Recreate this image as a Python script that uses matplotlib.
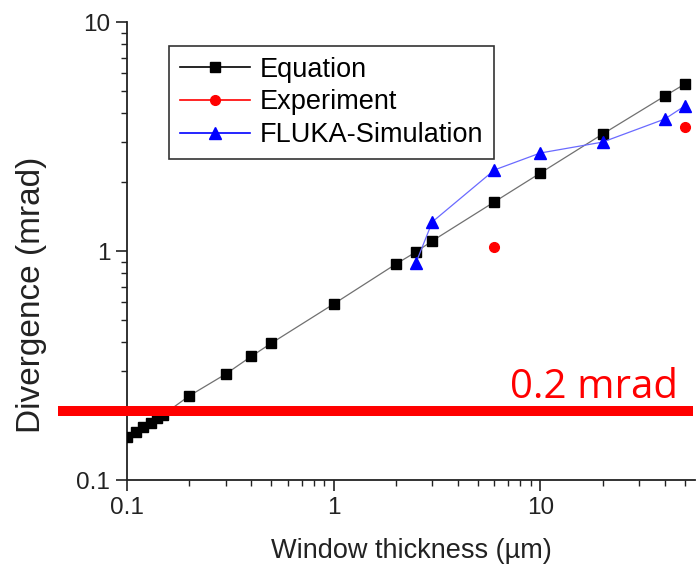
import numpy as np
import matplotlib.pyplot as plt
from matplotlib.ticker import LogLocator, NullFormatter, FixedLocator, FixedFormatter

plt.rcParams['font.family'] = ['Liberation Sans', 'DejaVu Sans']

# Equation (calculated divergence)
eq_x = [0.1, 0.11, 0.12, 0.13, 0.14, 0.15, 0.2, 0.3, 0.4, 0.5, 1, 2, 2.5, 3, 6, 10, 20, 40, 50]
eq_y = [0.154, 0.162, 0.170, 0.178, 0.186, 0.193, 0.233, 0.29, 0.347, 0.396, 0.587,
        0.877, 0.99, 1.107, 1.64, 2.19, 3.24, 4.75, 5.36]

# Experiment
exp_x = [6, 50]
exp_y = [1.04, 3.47]

# FLUKA simulation
sim_x = [2.5, 3, 6, 10, 20, 40, 50]
sim_y = [0.887, 1.34, 2.26, 2.68, 2.99, 3.77, 4.30]

limit = 0.2  # mrad
limit_span = [0.0465, 55]

fig = plt.figure(figsize=(7, 5.65), dpi=100)
ax = fig.add_axes([0.1814, 0.1504, 0.8114, 0.8106])

ax.plot(eq_x, eq_y, color='#707070', lw=0.9, marker='s', ms=7.5,
        mfc='black', mec='black', zorder=3)
ax.plot(exp_x, exp_y, ls='none', marker='o', ms=7, mfc='red', mec='red', zorder=3)
ax.plot(sim_x, sim_y, color='#6a6aff', lw=0.9, marker='^', ms=8.5,
        mfc='blue', mec='blue', zorder=3)

# legend handles (lines shown in legend like the original)
h1, = ax.plot([], [], color='black', lw=1.2, marker='s', ms=7.5, mfc='black', mec='black')
h2, = ax.plot([], [], color='red', lw=1.2, marker='o', ms=7, mfc='red', mec='red')
h3, = ax.plot([], [], color='blue', lw=1.2, marker='^', ms=8.5, mfc='blue', mec='blue')

# 0.2 mrad limit
ax.plot(limit_span, [limit, limit], color='red', lw=7.2, solid_capstyle='butt',
        clip_on=False, zorder=5)
ax.text(46.4, 0.228, '0.2 mrad', color='red', fontsize=29, family='Open Sans',
        ha='right', va='baseline')

ax.set_xscale('log')
ax.set_yscale('log')
ax.set_xlim(0.1, 56)
ax.set_ylim(0.1, 10)

ax.xaxis.set_major_locator(FixedLocator([0.1, 1, 10]))
ax.xaxis.set_major_formatter(FixedFormatter(['0.1', '1', '10']))
ax.yaxis.set_major_locator(FixedLocator([0.1, 1, 10]))
ax.yaxis.set_major_formatter(FixedFormatter(['0.1', '1', '10']))
ax.xaxis.set_minor_locator(LogLocator(base=10, subs=np.arange(2, 10)))
ax.yaxis.set_minor_locator(LogLocator(base=10, subs=np.arange(2, 10)))
ax.xaxis.set_minor_formatter(NullFormatter())
ax.yaxis.set_minor_formatter(NullFormatter())

for s in ['top', 'right']:
    ax.spines[s].set_visible(False)
for s in ['left', 'bottom']:
    ax.spines[s].set_linewidth(1.3)
    ax.spines[s].set_color('#222222')

ax.tick_params(which='major', direction='out', length=8, width=1.2, labelsize=17.5,
               colors='#222222', pad=4)
ax.tick_params(which='minor', direction='out', length=4, width=1.0, colors='#222222')

ax.set_xlabel('Window thickness (µm)', fontsize=19.5, color='#222222', labelpad=14)
ax.set_ylabel('Divergence (mrad)', fontsize=24, color='#222222')
ax.yaxis.set_label_coords(-0.141, 0.404)

leg = ax.legend([h1, h2, h3], ['Equation', 'Experiment', 'FLUKA-Simulation'],
                loc='upper left', bbox_to_anchor=(0.074, 0.948), borderaxespad=0,
                fontsize=19.5, frameon=True, fancybox=False, handlelength=2.6,
                handletextpad=0.35, labelspacing=0.25, borderpad=0.4)
leg.get_frame().set_edgecolor('black')
leg.get_frame().set_linewidth(1.2)

fig.savefig('out.png', dpi=100)
